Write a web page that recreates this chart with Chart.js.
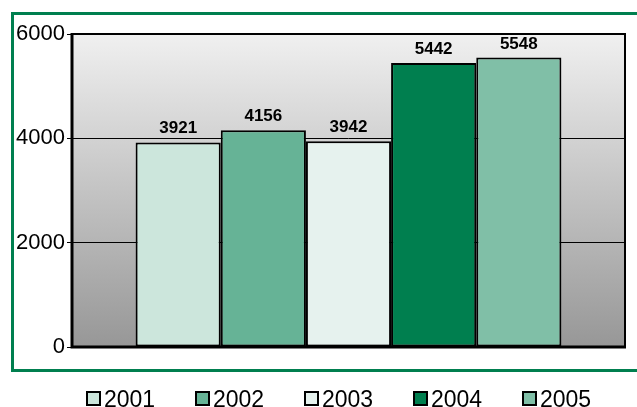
<!DOCTYPE html>
<html>
<head>
<meta charset="utf-8">
<script src="https://cdn.jsdelivr.net/npm/chart.js@4/dist/chart.umd.min.js"></script>
<style>
  html, body { margin: 0; padding: 0; background: #fff; overflow: hidden; }
  #wrap { position: relative; width: 637px; height: 407px; }
  #legend { position: absolute; left: 86px; top: 388px; display: flex;
            font-family: "Liberation Sans", Arial, sans-serif; font-size: 23px; line-height: 23px; color: #000; }
  #legend .item { width: 109px; display: flex; align-items: flex-start; }
  #legend .box { width: 15px; height: 15px; box-sizing: border-box; border: 2px solid #000;
                 margin-top: 3px; margin-right: 3px; flex: none; }
</style>
</head>
<body>
<div id="wrap">
  <canvas id="chart"></canvas>
  <div id="legend"></div>
</div>
<script>
// 데이터
const categories = [''];
const seriesNames = ['2001', '2002', '2003', '2004', '2005'];
const seriesValues = [3921, 4156, 3942, 5442, 5548];
const seriesColors = ['#cce6dc', '#66b396', '#e6f2ee', '#007f4f', '#80bfa7'];
const yTicks = [0, 2000, 4000, 6000];

const fontFamily = '"Liberation Sans", Arial, sans-serif';

// 녹색 테두리 + 플롯 배경
const backgroundPlugin = {
  id: 'background',
  beforeDraw(chart) {
    const { ctx, chartArea: a } = chart;
    ctx.save();
    ctx.strokeStyle = '#007f4f';
    ctx.lineWidth = 3;
    ctx.strokeRect(12.5, 13.5, 700, 357);
    const g = ctx.createLinearGradient(0, a.top, 0, a.bottom);
    g.addColorStop(0, '#f0f0f0');
    g.addColorStop(1, '#979797');
    ctx.fillStyle = g;
    ctx.fillRect(a.left, a.top, a.right - a.left, a.bottom - a.top);
    ctx.restore();
  }
};

// 값 라벨 + 플롯 테두리
const labelPlugin = {
  id: 'labels',
  afterDatasetsDraw(chart) {
    const { ctx, chartArea: a } = chart;
    ctx.save();
    ctx.fillStyle = '#000';
    ctx.font = 'bold 17px ' + fontFamily;
    ctx.textAlign = 'center';
    ctx.textBaseline = 'alphabetic';
    chart.data.datasets.forEach((ds, i) => {
      const bar = chart.getDatasetMeta(i).data[0];
      ctx.fillText(String(ds.data[0]), bar.x, bar.y - 9);
    });
    ctx.strokeStyle = '#000';
    ctx.lineWidth = 2;
    ctx.beginPath();
    ctx.moveTo(a.left, a.top);
    ctx.lineTo(a.right, a.top);
    ctx.lineTo(a.right, a.bottom);
    ctx.stroke();
    ctx.lineWidth = 3;
    ctx.beginPath();
    ctx.moveTo(a.left, a.top - 1);
    ctx.lineTo(a.left, a.bottom);
    ctx.lineTo(a.right + 1, a.bottom);
    ctx.stroke();
    ctx.restore();
  }
};

const datasets = seriesNames.map((name, i) => ({
  label: name,
  data: [seriesValues[i]],
  backgroundColor: seriesColors[i],
  borderColor: '#000',
  borderWidth: 2,
  borderSkipped: false
}));

new Chart(document.getElementById('chart').getContext('2d'), {
  type: 'bar',
  data: { labels: categories, datasets: datasets },
  options: {
    responsive: true,
    maintainAspectRatio: false,
    animation: false,
    layout: { padding: { top: 34, right: 12, left: 0, bottom: 60 } },
    datasets: { bar: { categoryPercentage: 0.77, barPercentage: 1 } },
    plugins: {
      legend: { display: false },
      tooltip: { enabled: false }
    },
    scales: {
      x: { display: false },
      y: {
        min: 0,
        max: 6000,
        afterBuildTicks(s) { s.ticks = yTicks.map(v => ({ value: v })); },
        afterFit(s) { s.width = 72; },
        grid: { color: '#000', lineWidth: 1, tickLength: 5 },
        border: { display: false },
        ticks: {
          padding: 2,
          color: '#000',
          font: { size: 22, family: fontFamily },
          callback: v => String(v)
        }
      }
    }
  },
  plugins: [backgroundPlugin, labelPlugin]
});

// 범례
const legendEl = document.getElementById('legend');
seriesNames.forEach((name, i) => {
  const item = document.createElement('div');
  item.className = 'item';
  const box = document.createElement('span');
  box.className = 'box';
  box.style.background = seriesColors[i];
  const text = document.createElement('span');
  text.textContent = name;
  item.appendChild(box);
  item.appendChild(text);
  legendEl.appendChild(item);
});
</script>
</body>
</html>
